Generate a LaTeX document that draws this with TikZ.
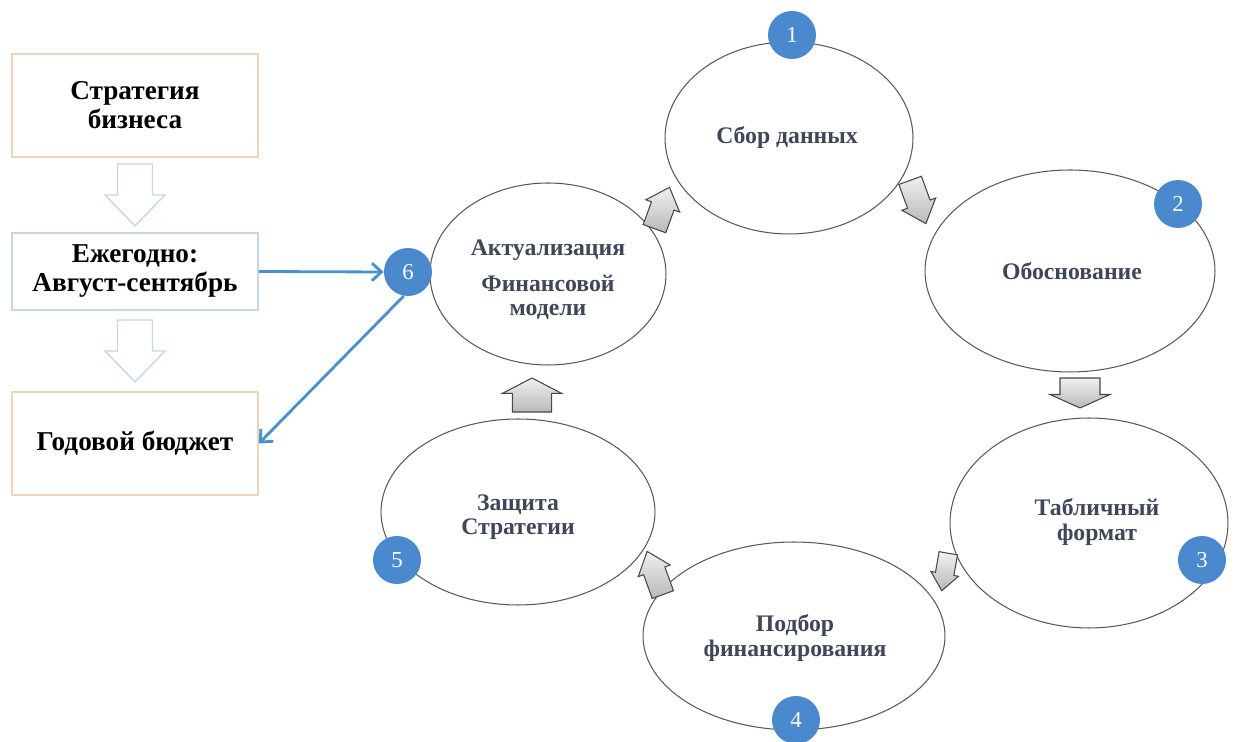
\documentclass[tikz,border=0pt]{standalone}
\usepackage{fontspec}
\setmainfont{Liberation Serif}
\usepackage{tikz}
\usetikzlibrary{arrows.meta,calc,shapes.geometric}

\definecolor{numblue}{RGB}{74,137,206}
\definecolor{linkblue}{RGB}{74,144,205}
\definecolor{slate}{RGB}{62,70,88}
\definecolor{tanline}{RGB}{236,212,190}
\definecolor{paleblue}{RGB}{196,214,232}

\tikzset{
  stepbox/.style={draw=tanline, line width=1pt, minimum width=4.92cm, inner sep=0pt,
    align=center, font=\bfseries\fontsize{15.5}{16.5}\selectfont},
  stage/.style={ellipse, draw=black!65, line width=0.6pt, inner sep=0pt},
  stagetext/.style={align=center, text=slate, inner sep=0pt,
    font=\bfseries\fontsize{13.5}{14}\selectfont},
  num/.style={circle, fill=numblue, minimum size=0.96cm, inner sep=0pt, text=white,
    font=\fontsize{13}{13}\selectfont},
  link/.style={draw=linkblue, line width=1.6pt, -{Straight Barb[length=5.5pt,width=10pt]}},
  pics/hollowarrow/.style={code={
    \draw[paleblue, line width=0.8pt, fill=white]
      (-31,-17.5) to (0,-17.5) to (0,-30) to (31,0) to (0,30) to (0,17.5) to (-31,17.5) to cycle;
  }},
  pics/cycarrow/.style 2 args={code={
    \draw[gray!55!black, line width=0.6pt, top color=gray!12, bottom color=gray!55]
      ({-#1/2},{-#2/3}) to ({0.05*#1},{-#2/3}) to ({0.05*#1},{-#2/2}) to ({#1/2},0)
      to ({0.05*#1},{#2/2}) to ({0.05*#1},{#2/3}) to ({-#1/2},{#2/3}) to cycle;
  }}
}

\begin{document}
\begin{tikzpicture}[x=0.02cm, y=-0.02cm]
        \useasboundingbox (0,0) rectangle (1234,742);
        %%Left column
        \node[stepbox, minimum height=2.06cm] (strat) at (135,105.5) {Стратегия\\бизнеса};
        \node[stepbox, draw=paleblue, minimum height=1.54cm] (yearly) at (135,271.5) {Ежегодно:\\Август-сентябрь};
        \node[stepbox, minimum height=2.06cm] (budget) at (135,443.5) {Годовой бюджет};
        \pic[rotate=-90] at ($(strat.south)!0.5!(yearly.north)$) {hollowarrow};
        \pic[rotate=-90] at ($(yearly.south)!0.5!(budget.north)$) {hollowarrow};
        %%Cycle
        \node[stage, minimum width=4.96cm, minimum height=3.84cm] (collect) at (789,138) {};
        \node[stage, minimum width=5.8cm, minimum height=4.04cm] (justify) at (1070,271) {};
        \node[stage, minimum width=5.56cm, minimum height=4.2cm] (table) at (1089,523) {};
        \node[stage, minimum width=6.04cm, minimum height=3.76cm] (funding) at (794,636) {};
        \node[stage, minimum width=5.48cm, minimum height=3.72cm] (defence) at (518,512) {};
        \node[stage, minimum width=4.72cm, minimum height=3.64cm] (update) at (548,274) {};
        \node[stagetext] (collect-t) at ($(collect)+(-2,0)$) {Сбор данных};
        \node[stagetext] (justify-t) at ($(justify)+(2,0)$) {Обоснование};
        \node[stagetext] (table-t) at ($(table)+(8,-1)$) {Табличный\\формат};
        \node[stagetext] (funding-t) at ($(funding)+(1,2)$) {Подбор\\финансирования};
        \node[stagetext] (defence-t) at ($(defence)+(0,5)$) {Защита\\Стратегии};
        \node[stagetext] (update-t) at ($(update)+(0,6)$) {Актуализация\\[6pt]Финансовой\\модели};
        %%Gray arrows
        \pic[rotate=70] at (662,208) {cycarrow={44}{36}};
        \pic[rotate=-70] at (918,202) {cycarrow={46}{36}};
        \pic[rotate=-90] at (1080,393) {cycarrow={30}{60}};
        \pic[rotate=-100] at (945,572) {cycarrow={38}{28}};
        \pic[rotate=110] at (655,573) {cycarrow={46}{34}};
        \pic[rotate=90] at (532,395) {cycarrow={34}{59}};
        %%Numbers
        \node[num] (n1) at (792,35) {1};
        \node[num] (n2) at (1178,204) {2};
        \node[num] (n3) at (1202,560) {3};
        \node[num] (n4) at (796,720) {4};
        \node[num] (n5) at (397,560) {5};
        \node[num] (n6) at (408,272) {6};
        %%Links
        \draw[link] (yearly.east) to (n6.west);
        \draw[link] (n6.-100) to (budget.east);
\end{tikzpicture}
\end{document}
